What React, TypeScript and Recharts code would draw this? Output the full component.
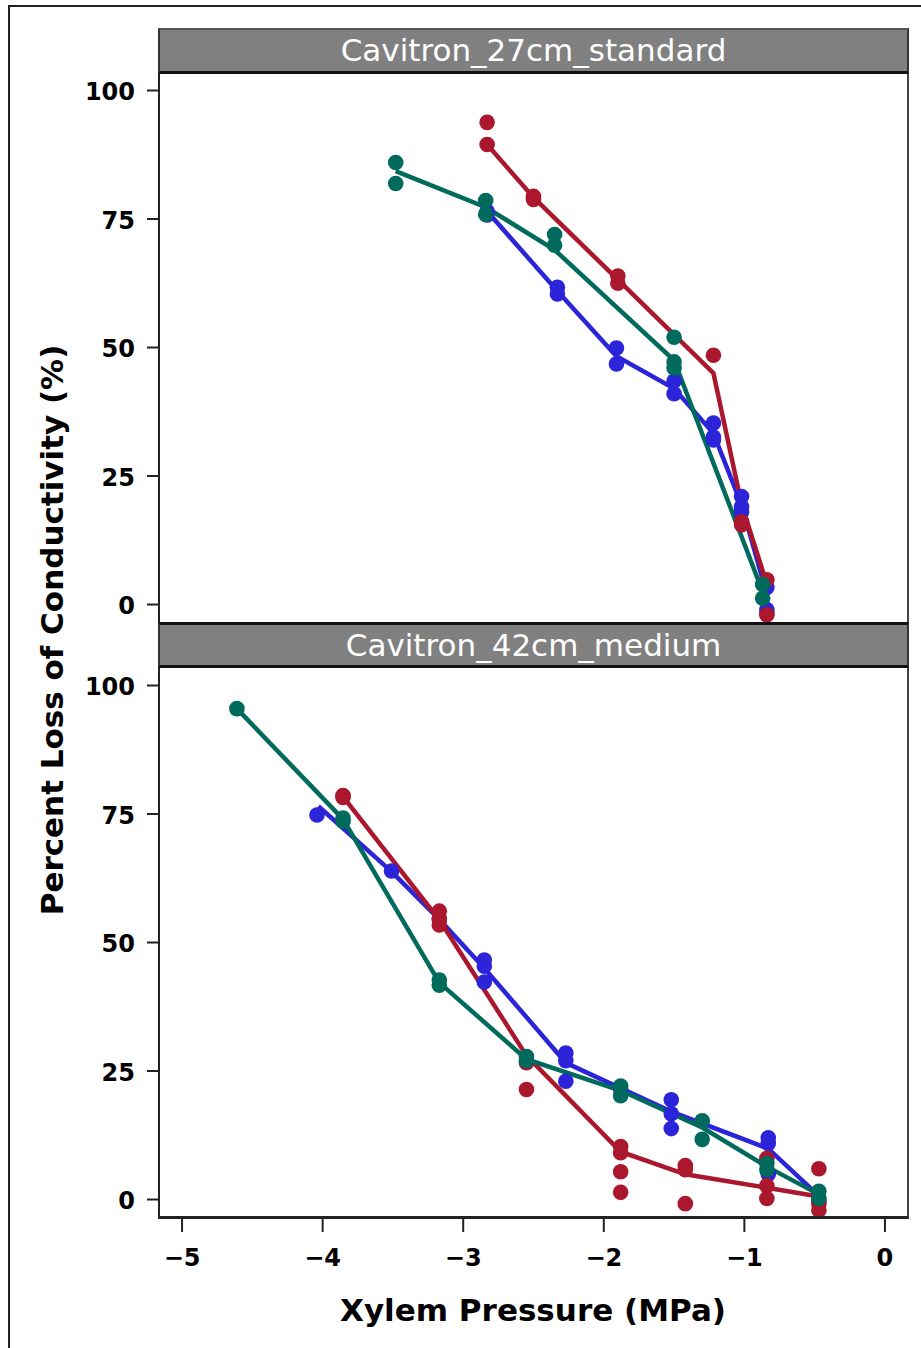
import React from 'react';
import { ComposedChart, Scatter, Line, XAxis, YAxis } from 'recharts';

// tick values
const X_TICKS = [-5, -4, -3, -2, -1, 0];
const Y_TICKS = [0, 25, 50, 75, 100];

const BLUE = '#2B24D9';
const RED = '#AB172D';
const GREEN = '#006A5D';

// Cavitron_27cm_standard: [pressure, PLC]
const BLUE_27_PTS = [
  [-2.83, 76.5], [-2.83, 75.8], [-2.33, 61.7], [-2.33, 60.4], [-1.91, 49.9], [-1.91, 46.8],
  [-1.5, 43.5], [-1.5, 41.0], [-1.22, 35.3], [-1.22, 32.6], [-1.22, 32.0],
  [-1.02, 21.0], [-1.02, 19.0], [-1.02, 18.0], [-0.84, 3.3], [-0.84, -1.0], [-0.84, -1.7],
];
const BLUE_27_LINE = [[-2.83, 76.5], [-2.33, 61], [-1.91, 48.3], [-1.5, 42], [-1.22, 33.3], [-1.02, 19.4], [-0.84, 2]];

const RED_27_PTS = [
  [-2.83, 93.8], [-2.83, 89.5], [-2.5, 79.4], [-2.5, 78.8], [-1.9, 63.9], [-1.9, 62.5],
  [-1.22, 48.5], [-1.02, 16.1], [-1.02, 15.5], [-0.84, 4.8], [-0.84, -2.0],
];
const RED_27_LINE = [[-2.83, 89.5], [-2.5, 79.2], [-1.9, 63.2], [-1.22, 45], [-1.02, 19.5], [-0.84, 4]];

const GREEN_27_PTS = [
  [-3.48, 86.0], [-3.48, 81.9], [-2.84, 78.6], [-2.84, 75.9], [-2.35, 72.0], [-2.35, 69.9],
  [-1.5, 52.0], [-1.5, 47.2], [-1.5, 46.0], [-0.87, 3.9], [-0.87, 1.2],
];
const GREEN_27_LINE = [[-3.48, 84.3], [-2.84, 77.3], [-2.35, 69], [-1.5, 47.5], [-0.87, 2.5]];

// Cavitron_42cm_medium
const BLUE_42_PTS = [
  [-4.04, 74.8], [-3.51, 63.9], [-3.17, 54.5], [-2.85, 46.6], [-2.85, 45.4], [-2.85, 42.3],
  [-2.27, 28.5], [-2.27, 27.0], [-2.27, 23.0], [-1.88, 21.5], [-1.52, 19.4], [-1.52, 16.7], [-1.52, 13.8],
  [-0.83, 12.0], [-0.83, 10.9], [-0.83, 4.9], [-0.47, -0.4],
];
const BLUE_42_LINE = [[-4.03, 76.5], [-3.51, 63.8], [-3.17, 54.5], [-2.85, 45], [-2.27, 26.6], [-1.52, 17.1], [-0.83, 9.9], [-0.47, 0.7]];

const RED_42_PTS = [
  [-3.855, 78.6], [-3.855, 78.2], [-3.17, 56.1], [-3.17, 54.6], [-3.17, 53.4], [-2.55, 26.6], [-2.55, 21.4],
  [-1.88, 10.3], [-1.88, 9.1], [-1.88, 5.4], [-1.88, 1.4], [-1.42, 6.6], [-1.42, 5.8], [-1.42, -0.8],
  [-0.84, 8.0], [-0.84, 2.7], [-0.84, 0.2], [-0.47, 6.0], [-0.47, -0.8], [-0.47, -2.1],
];
const RED_42_LINE = [[-3.855, 78.4], [-3.17, 54.4], [-2.55, 28], [-1.88, 9.3], [-1.42, 4.9], [-0.84, 2.3], [-0.47, 0.6]];

const GREEN_42_PTS = [
  [-4.61, 95.5], [-3.855, 74.2], [-3.855, 73.6], [-3.17, 42.7], [-3.17, 41.7], [-2.55, 27.8], [-2.55, 27.0],
  [-1.88, 22.1], [-1.88, 20.2], [-1.3, 15.3], [-1.3, 11.7], [-0.84, 7.0], [-0.84, 5.8], [-0.47, 1.6], [-0.47, 0.2],
];
const GREEN_42_LINE = [[-4.61, 95.5], [-3.855, 74], [-3.17, 42.2], [-2.55, 27.3], [-1.88, 21.2], [-1.3, 14], [-0.84, 6.4], [-0.47, 1.0]];

const toPts = (arr: number[][]) => arr.map(([x, y]) => ({ x, y }));

const FONT = '"DejaVu Sans", sans-serif';
const X_DOMAIN = [-5.164, 0.164];
const Y_DOMAIN = [-3.4, 103.6];

const dot = (color: string) => (p: any) => <circle cx={p.cx} cy={p.cy} r={7.8} fill={color} />;

interface Series {
  color: string;
  pts: number[][];
  line: number[][];
}

const Panel: React.FC<{ series: Series[]; top: number; height: number; margin: any; showX: boolean }> = ({
  series, top, height, margin, showX,
}) => (
  <div style={{ position: 'absolute', left: 0, top, width: 921, height }}>
    <ComposedChart width={921} height={height} margin={margin}>
      <XAxis
        type="number"
        dataKey="x"
        domain={X_DOMAIN}
        ticks={X_TICKS}
        allowDataOverflow
        hide={!showX}
        height={60}
        axisLine={false}
        tickSize={15}
        tickMargin={17}
        tickLine={{ stroke: '#222', strokeWidth: 2 }}
        tickFormatter={(v: number) => (v < 0 ? `\u2212${Math.abs(v)}` : `${v}`)}
        tick={{ fill: '#000', fontSize: 24, fontWeight: 'bold', fontFamily: FONT }}
      />
      <YAxis
        type="number"
        dataKey="y"
        domain={Y_DOMAIN}
        ticks={Y_TICKS}
        allowDataOverflow
        width={60}
        axisLine={false}
        tickSize={12}
        tickMargin={12}
        tickLine={{ stroke: '#222', strokeWidth: 2 }}
        tick={{ fill: '#000', fontSize: 24, fontWeight: 'bold', fontFamily: FONT, dy: 1 }}
      />
      {series.map((s, i) => (
        <Line
          key={`l${i}`}
          data={toPts(s.line)}
          dataKey="y"
          type="linear"
          stroke={s.color}
          strokeWidth={4.5}
          dot={false}
          isAnimationActive={false}
        />
      ))}
      {series.map((s, i) => (
        <Scatter key={`s${i}`} data={toPts(s.pts)} fill={s.color} shape={dot(s.color)} isAnimationActive={false} />
      ))}
    </ComposedChart>
  </div>
);

const Strip: React.FC<{ top: number; label: string; topBorder: string }> = ({ top, label, topBorder }) => (
  <div
    style={{
      position: 'absolute', left: 158, top, width: 751, height: 46, boxSizing: 'border-box',
      background: '#808080', borderTop: topBorder, borderBottom: '3px solid #111',
      borderLeft: '2px solid #333', borderRight: '2px solid #333',
      color: '#fff', fontFamily: FONT, fontSize: 31, lineHeight: '40px', textAlign: 'center',
    }}
  >
    {label}
  </div>
);

export default function App() {
  const s27: Series[] = [
    { color: BLUE, pts: BLUE_27_PTS, line: BLUE_27_LINE },
    { color: RED, pts: RED_27_PTS, line: RED_27_LINE },
    { color: GREEN, pts: GREEN_27_PTS, line: GREEN_27_LINE },
  ];
  const s42: Series[] = [
    { color: BLUE, pts: BLUE_42_PTS, line: BLUE_42_LINE },
    { color: RED, pts: RED_42_PTS, line: RED_42_LINE },
    { color: GREEN, pts: GREEN_42_PTS, line: GREEN_42_LINE },
  ];
  return (
    <div style={{ position: 'absolute', left: 0, top: 0, width: 921, height: 1348, background: '#fff', overflow: 'hidden' }}>
      <div style={{ position: 'absolute', left: 8, top: 5, width: 920, height: 1350, borderTop: '2px solid #222', borderLeft: '2px solid #222' }} />
      <Panel series={s27} top={0} height={650} margin={{ top: 72, right: 13, bottom: 28, left: 99 }} showX={false} />
      <Panel series={s42} top={623} height={725} margin={{ top: 44, right: 13, bottom: 71, left: 99 }} showX />
      {/* plot frames */}
      <div style={{ position: 'absolute', left: 158, top: 72, width: 751, height: 552, boxSizing: 'border-box', borderLeft: '2px solid #222', borderRight: '2px solid #444' }} />
      <div style={{ position: 'absolute', left: 158, top: 667, width: 751, height: 552, boxSizing: 'border-box', borderLeft: '2px solid #222', borderRight: '2px solid #444', borderBottom: '3px solid #222' }} />
      <Strip top={28} label="Cavitron_27cm_standard" topBorder="2px solid #555" />
      <Strip top={622} label="Cavitron_42cm_medium" topBorder="3px solid #111" />
      <div
        style={{
          position: 'absolute', left: 52, top: 630, transform: 'translate(-50%, -50%) rotate(-90deg)',
          whiteSpace: 'nowrap', fontFamily: FONT, fontWeight: 'bold', fontSize: 31, color: '#000',
        }}
      >
        Percent Loss of Conductivity (%)
      </div>
      <div
        style={{
          position: 'absolute', left: 533, top: 1310, transform: 'translate(-50%, -50%)',
          whiteSpace: 'nowrap', fontFamily: FONT, fontWeight: 'bold', fontSize: 31, color: '#000',
        }}
      >
        Xylem Pressure (MPa)
      </div>
    </div>
  );
}
